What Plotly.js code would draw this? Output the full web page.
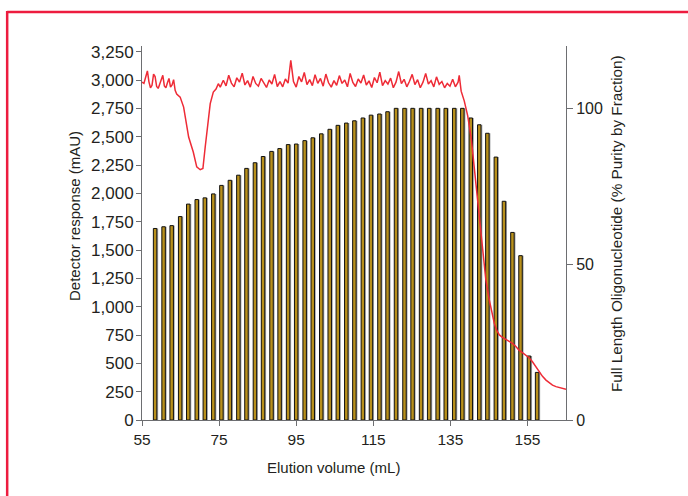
<!DOCTYPE html>
<html>
<head>
<meta charset="utf-8">
<script src="https://cdn.plot.ly/plotly-3.0.1.min.js"></script>
<style>
html,body{margin:0;padding:0;background:#fff;}
#chart{width:688px;height:496px;}
</style>
</head>
<body>
<div id="chart"></div>
<script>
// Fraction elution volumes (mL)
const volume = [58.4, 60.6, 62.7, 64.9, 67.0, 69.2, 71.3, 73.5, 75.6, 77.8,
  80.0, 82.1, 84.3, 86.4, 88.6, 90.7, 92.9, 95.0, 97.2, 99.3,
  101.5, 103.7, 105.8, 108.0, 110.1, 112.3, 114.4, 116.6, 118.7, 120.9,
  123.1, 125.2, 127.4, 129.5, 131.7, 133.8, 136.0, 138.1, 140.3, 142.5,
  144.6, 146.8, 148.9, 151.1, 153.2, 155.4, 157.5];
// Detector response (mAU) per fraction
const response = [1690, 1705, 1715, 1795, 1905, 1945, 1960, 1995, 2070, 2115,
  2160, 2220, 2270, 2325, 2370, 2395, 2430, 2435, 2465, 2490,
  2525, 2565, 2600, 2620, 2640, 2665, 2690, 2700, 2720, 2750,
  2750, 2750, 2750, 2750, 2750, 2750, 2750, 2750, 2665, 2605,
  2530, 2320, 1930, 1655, 1450, 565, 420];
// Purity trace (% full length)
const purityX = [55.0, 55.5, 56.0, 56.4, 56.8, 57.2, 57.6, 58.0, 58.4, 58.8,
  59.2, 59.6, 60.0, 60.4, 60.8, 61.2, 61.6, 62.0, 62.4, 62.8,
  63.2, 63.6, 64.0, 64.9, 65.8, 66.5, 67.1, 68.3, 69.2, 70.1,
  70.8, 71.4, 72.2, 72.7, 73.5, 74.2, 74.8, 75.3,
  76.1, 76.8, 77.5, 78.2, 78.9, 79.6, 80.3, 81.0, 81.7, 82.4,
  83.1, 83.8, 84.5, 85.2, 85.9, 86.6, 87.3, 88.0, 88.7, 89.4,
  90.1, 90.8, 91.5, 92.2, 92.9, 93.6, 94.3, 95.0, 95.7, 96.4,
  97.1, 97.8, 98.5, 99.2, 99.9, 100.6, 101.3, 102.0, 102.7, 103.4,
  104.1, 104.8, 105.5, 106.2, 106.9, 107.6, 108.3, 109.0, 109.7, 110.4,
  111.1, 111.8, 112.5, 113.2, 113.9, 114.6, 115.3, 116.0, 116.7, 117.4,
  118.1, 118.8, 119.5, 120.2, 120.9, 121.6, 122.3, 123.0, 123.7, 124.4,
  125.1, 125.8, 126.5, 127.2, 127.9, 128.6, 129.3, 130.0, 130.7, 131.4,
  132.1, 132.8, 133.5, 134.2, 134.9, 135.6, 136.3, 137.0,
  137.3, 137.8, 138.6, 139.5, 140.4, 141.2, 141.9, 142.5, 143.4, 144.2,
  145.1, 145.8, 146.4, 147.0, 147.7, 148.5, 149.4, 150.3, 151.1, 152.0,
  152.8, 153.7, 154.6, 155.5, 156.3, 157.2, 158.0, 158.9, 159.8, 160.7,
  161.5, 162.4, 163.2, 164.1, 165.0];
const purityY = [108.4, 108.0, 110.2, 112.0, 108.5, 106.6, 107.4, 111.0, 110.2, 107.0,
  106.4, 107.8, 109.0, 110.6, 107.2, 106.6, 108.2, 109.6, 106.8, 107.5,
  109.2, 105.8, 104.6, 103.6, 100.4, 95.0, 90.8, 86.0, 81.2, 80.3,
  80.7, 87.6, 97.2, 101.5, 105.2, 106.2, 107.9, 106.8,
  109.0, 107.2, 110.6, 108.1, 106.9, 109.8, 108.4, 111.3, 107.5, 108.9,
  106.8, 110.2, 108.0, 107.1, 109.6, 108.3, 106.7, 109.1, 107.8, 110.9,
  107.0, 108.6, 106.9, 109.4, 108.1, 115.4, 108.6, 106.8, 110.2, 108.5,
  111.5, 107.6, 109.2, 107.3, 110.8, 108.0, 109.6, 107.1, 111.0, 108.2,
  106.8, 108.9, 107.4, 110.5, 108.0, 109.1, 106.9, 111.2, 108.3, 107.0,
  109.4, 108.1, 110.7, 107.5, 108.8, 106.7, 109.9, 108.2, 111.6, 107.3,
  108.9, 107.8, 109.7, 106.6, 108.4, 111.8, 107.9, 109.3, 106.9, 108.7,
  110.9, 107.6, 109.2, 106.6, 108.4, 111.2, 107.8, 108.9, 106.9, 110.1,
  107.7, 108.6, 106.6, 108.0, 107.1, 109.3, 106.9, 108.4,
  110.6, 105.5, 102.4, 97.6, 90.5, 81.0, 72.5, 64.5, 53.4, 45.0,
  38.5, 34.0, 31.0, 28.8, 27.3, 26.5, 25.9, 25.3, 24.6, 23.6,
  22.4, 21.6, 20.8, 19.9, 18.7, 17.0, 15.5, 14.0, 12.8, 11.9,
  11.2, 10.7, 10.4, 10.1, 9.9];

const leftTicks = [0, 250, 500, 750, 1000, 1250, 1500, 1750, 2000, 2250, 2500, 2750, 3000, 3250];
const rightTicks = [0, 50, 100];
const xTicks = [55, 75, 95, 115, 135, 155];

const FONT = '"Liberation Sans", Arial, sans-serif';
const TXT = '#231f20';
const AX = '#6d6e71';
const BARW = 0.9;

const traces = [
  { // soft grey shadow to the right of each bar
    type: 'bar', x: volume, y: response, yaxis: 'y',
    width: BARW, offset: -BARW / 2 + 0.35,
    marker: {color: '#a7a9ac', line: {width: 0}},
    hoverinfo: 'skip', showlegend: false
  },
  {
    type: 'bar', x: volume, y: response, yaxis: 'y',
    width: BARW, offset: -BARW / 2,
    marker: {color: '#b8901c', line: {color: '#111', width: 1}},
    hoverinfo: 'x+y', showlegend: false
  },
  {
    type: 'scatter', mode: 'lines', x: purityX, y: purityY, yaxis: 'y2',
    line: {color: '#ee2b36', width: 1.5},
    showlegend: false
  }
];

const layout = {
  width: 688, height: 496,
  margin: {l: 142, r: 122, t: 46, b: 76, pad: 0},
  paper_bgcolor: '#fff', plot_bgcolor: '#fff',
  font: {family: FONT, size: 16, color: TXT},
  showlegend: false,
  barmode: 'overlay',
  xaxis: {
    range: [55, 165], tickvals: xTicks, ticktext: xTicks.map(String),
    showgrid: false, zeroline: false,
    showline: true, linecolor: AX, linewidth: 1,
    ticks: 'outside', ticklen: 5, tickcolor: AX, tickwidth: 1,
    tickfont: {family: FONT, size: 15.5, color: TXT}
  },
  yaxis: {
    range: [0, 3300], tickvals: leftTicks, tickformat: ',d',
    showgrid: false, zeroline: false,
    showline: true, linecolor: AX, linewidth: 1,
    ticks: 'outside', ticklen: 5, tickcolor: AX, tickwidth: 1,
    ticklabelstandoff: -1,
    tickfont: {family: FONT, size: 17, color: TXT}
  },
  yaxis2: {
    range: [0, 120], tickvals: rightTicks, overlaying: 'y', side: 'right',
    showgrid: false, zeroline: false,
    showline: true, linecolor: AX, linewidth: 1,
    ticks: 'outside', ticklen: 6, tickcolor: AX, tickwidth: 1,
    tickfont: {family: FONT, size: 16, color: TXT}
  },
  annotations: [
    {text: 'Elution volume (mL)', xref: 'paper', yref: 'paper', x: 0.4505, y: -0.1257,
     xanchor: 'center', yanchor: 'middle', showarrow: false,
     font: {family: FONT, size: 15, color: TXT}},
    {text: 'Detector response (mAU)', xref: 'paper', yref: 'paper', x: -0.158, y: 0.5455,
     xanchor: 'center', yanchor: 'middle', textangle: -90, showarrow: false,
     font: {family: FONT, size: 15, color: TXT}},
    {text: 'Full Length Oligonucleotide (% Purity by Fraction)', xref: 'paper', yref: 'paper',
     x: 1.118, y: 0.524, xanchor: 'center', yanchor: 'middle', textangle: -90, showarrow: false,
     font: {family: FONT, size: 15.3, color: TXT}}
  ],
  shapes: [
    {type: 'line', xref: 'paper', yref: 'paper', x0: -0.318, x1: 1.3, y0: 1.0909, y1: 1.0909,
     line: {color: '#ed1c3f', width: 2.5}},
    {type: 'line', xref: 'paper', yref: 'paper', x0: -0.318, x1: -0.318, y0: 1.0935, y1: -0.25,
     line: {color: '#ed1c3f', width: 2.5}}
  ]
};

Plotly.newPlot('chart', traces, layout, {displayModeBar: false, staticPlot: true});
</script>
</body>
</html>
